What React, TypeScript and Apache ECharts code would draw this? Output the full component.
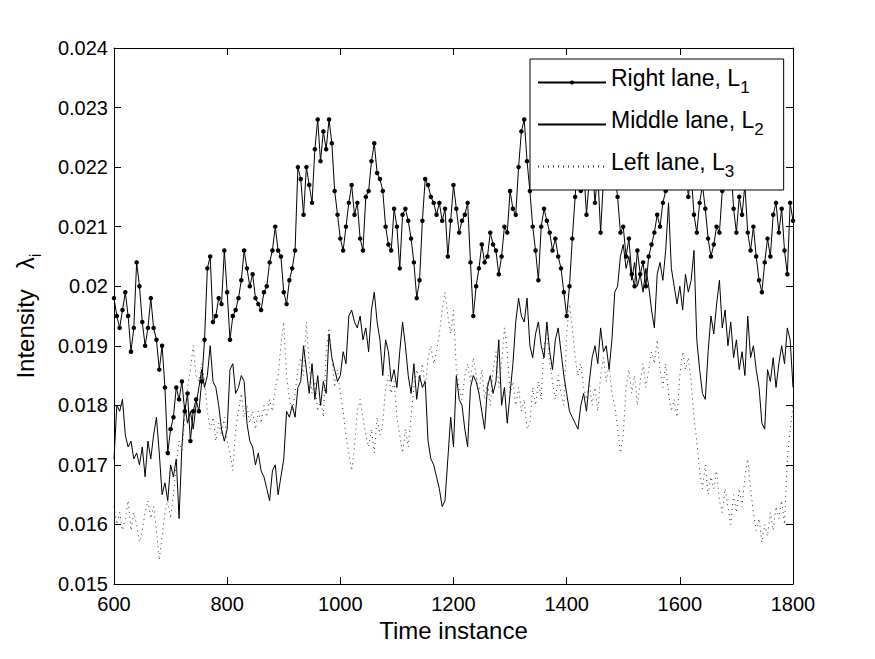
import { useEffect, useRef } from "react";
import * as echarts from "echarts";

// Samples are taken every 5 time instances, starting at 600.
const T_START = 600;
const T_STEP = 5;

const xTicks = { min: 600, max: 1800, step: 200 };
const yTicks = { min: 0.015, max: 0.024, step: 0.001 };

// Right lane, L1
const rightLane = [
  0.0198, 0.0195, 0.0193, 0.0196, 0.0199, 0.0195, 0.0189, 0.0193, 0.0204, 0.0200,
  0.0194, 0.0190, 0.0193, 0.0198, 0.0193, 0.0191, 0.0186, 0.0190, 0.0183, 0.0172,
  0.0176, 0.0178, 0.0183, 0.0181, 0.0184, 0.0179, 0.0182, 0.0174, 0.0179, 0.0181,
  0.0179, 0.0184, 0.0191, 0.0203, 0.0205, 0.0194, 0.0195, 0.0198, 0.0197, 0.0206,
  0.0199, 0.0191, 0.0195, 0.0196, 0.0198, 0.0201, 0.0206, 0.0203, 0.0200, 0.0202,
  0.0198, 0.0197, 0.0196, 0.0199, 0.0200, 0.0204, 0.0206, 0.0210, 0.0206, 0.0205,
  0.0199, 0.0197, 0.0201, 0.0203, 0.0206, 0.0220, 0.0218, 0.0212, 0.0220, 0.0217,
  0.0214, 0.0223, 0.0228, 0.0221, 0.0226, 0.0223, 0.0228, 0.0224, 0.0216, 0.0212,
  0.0208, 0.0206, 0.0210, 0.0214, 0.0217, 0.0212, 0.0214, 0.0208, 0.0206, 0.0215,
  0.0216, 0.0221, 0.0224, 0.0219, 0.0218, 0.0216, 0.0210, 0.0207, 0.0206, 0.0213,
  0.0210, 0.0203, 0.0212, 0.0213, 0.0211, 0.0208, 0.0204, 0.0198, 0.0201, 0.0211,
  0.0218, 0.0217, 0.0215, 0.0214, 0.0212, 0.0214, 0.0211, 0.0213, 0.0205, 0.0211,
  0.0217, 0.0213, 0.0209, 0.0211, 0.0212, 0.0214, 0.0204, 0.0195, 0.0200, 0.0203,
  0.0207, 0.0204, 0.0205, 0.0209, 0.0207, 0.0206, 0.0202, 0.0205, 0.0210, 0.0209,
  0.0216, 0.0213, 0.0212, 0.0220, 0.0226, 0.0228, 0.0221, 0.0216, 0.0210, 0.0206,
  0.0201, 0.0210, 0.0213, 0.0211, 0.0209, 0.0206, 0.0208, 0.0205, 0.0203, 0.0199,
  0.0195, 0.0200, 0.0208, 0.0215, 0.0222, 0.0216, 0.0220, 0.0212, 0.0218, 0.0221,
  0.0214, 0.0219, 0.0209, 0.0218, 0.0223, 0.0220, 0.0224, 0.0219, 0.0215, 0.0209,
  0.0210, 0.0205, 0.0208, 0.0202, 0.0200, 0.0206, 0.0202, 0.0204, 0.0200, 0.0205,
  0.0207, 0.0209, 0.0212, 0.0210, 0.0214, 0.0216, 0.0219, 0.0217, 0.0222, 0.0219,
  0.0223, 0.0217, 0.0221, 0.0215, 0.0219, 0.0212, 0.0209, 0.0214, 0.0217, 0.0213,
  0.0208, 0.0205, 0.0207, 0.0210, 0.0209, 0.0216, 0.0220, 0.0217, 0.0221, 0.0213,
  0.0209, 0.0215, 0.0212, 0.0217, 0.0209, 0.0206, 0.0210, 0.0205, 0.0201, 0.0199,
  0.0204, 0.0208, 0.0205, 0.0212, 0.0214, 0.0209, 0.0213, 0.0206, 0.0202, 0.0214,
  0.0211,
];

// Middle lane, L2
const middleLane = [
  0.0171, 0.0180, 0.0179, 0.0181, 0.0175, 0.0173, 0.0174, 0.0171, 0.0172, 0.0170,
  0.0173, 0.0168, 0.0174, 0.0171, 0.0175, 0.0178, 0.0172, 0.0165, 0.0167, 0.0164,
  0.0170, 0.0168, 0.0171, 0.0161, 0.0173, 0.0180, 0.0177, 0.0179, 0.0176, 0.0180,
  0.0183, 0.0186, 0.0183, 0.0185, 0.0190, 0.0184, 0.0183, 0.0180, 0.0176, 0.0174,
  0.0176, 0.0186, 0.0187, 0.0182, 0.0183, 0.0185, 0.0184, 0.0177, 0.0174, 0.0173,
  0.0170, 0.0172, 0.0169, 0.0168, 0.0166, 0.0164, 0.0169, 0.0170, 0.0165, 0.0168,
  0.0171, 0.0179, 0.0178, 0.0180, 0.0178, 0.0183, 0.0184, 0.0190, 0.0186, 0.0182,
  0.0187, 0.0181, 0.0185, 0.0180, 0.0184, 0.0182, 0.0192, 0.0188, 0.0186, 0.0184,
  0.0185, 0.0189, 0.0187, 0.0195, 0.0196, 0.0194, 0.0193, 0.0195, 0.0191, 0.0193,
  0.0189, 0.0196, 0.0199, 0.0194, 0.0191, 0.0185, 0.0191, 0.0189, 0.0184, 0.0186,
  0.0183, 0.0189, 0.0194, 0.0190, 0.0185, 0.0182, 0.0187, 0.0181, 0.0185, 0.0183,
  0.0184, 0.0174, 0.0171, 0.0170, 0.0168, 0.0166, 0.0163, 0.0164, 0.0171, 0.0178,
  0.0173, 0.0185, 0.0181, 0.0180, 0.0176, 0.0173, 0.0183, 0.0185, 0.0184, 0.0182,
  0.0179, 0.0176, 0.0183, 0.0185, 0.0182, 0.0184, 0.0191, 0.0180, 0.0183, 0.0177,
  0.0182, 0.0187, 0.0194, 0.0198, 0.0195, 0.0194, 0.0198, 0.0190, 0.0188, 0.0192,
  0.0194, 0.0190, 0.0188, 0.0194, 0.0189, 0.0186, 0.0191, 0.0193, 0.0189, 0.0185,
  0.0182, 0.0179, 0.0178, 0.0177, 0.0176, 0.0180, 0.0182, 0.0179, 0.0184, 0.0188,
  0.0190, 0.0187, 0.0193, 0.0189, 0.0190, 0.0186, 0.0191, 0.0199, 0.0200, 0.0205,
  0.0207, 0.0203, 0.0205, 0.0201, 0.0204, 0.0200, 0.0202, 0.0199, 0.0203, 0.0200,
  0.0196, 0.0193, 0.0202, 0.0204, 0.0201, 0.0206, 0.0214, 0.0203, 0.0200, 0.0197,
  0.0200, 0.0196, 0.0202, 0.0199, 0.0201, 0.0206, 0.0191, 0.0186, 0.0182, 0.0181,
  0.0189, 0.0195, 0.0192, 0.0197, 0.0201, 0.0193, 0.0196, 0.0190, 0.0194, 0.0188,
  0.0191, 0.0186, 0.0189, 0.0185, 0.0195, 0.0188, 0.0190, 0.0186, 0.0183, 0.0177,
  0.0176, 0.0186, 0.0184, 0.0188, 0.0183, 0.0187, 0.0190, 0.0187, 0.0193, 0.0191,
  0.0183,
];

// Left lane, L3
const leftLane = [
  0.0163, 0.0160, 0.0162, 0.0159, 0.0161, 0.0164, 0.0159, 0.0162, 0.0160, 0.0157,
  0.0159, 0.0162, 0.0164, 0.0161, 0.0163, 0.0159, 0.0154, 0.0158, 0.0162, 0.0164,
  0.0161, 0.0165, 0.0170, 0.0174, 0.0172, 0.0178, 0.0183, 0.0186, 0.0190, 0.0185,
  0.0184, 0.0187, 0.0184, 0.0179, 0.0176, 0.0178, 0.0174, 0.0177, 0.0175, 0.0178,
  0.0174, 0.0172, 0.0169, 0.0176, 0.0179, 0.0182, 0.0178, 0.0180, 0.0177, 0.0179,
  0.0176, 0.0179, 0.0177, 0.0180, 0.0178, 0.0181, 0.0179, 0.0183, 0.0185, 0.0190,
  0.0194, 0.0185, 0.0181, 0.0179, 0.0182, 0.0186, 0.0188, 0.0185, 0.0194, 0.0187,
  0.0182, 0.0184, 0.0179, 0.0181, 0.0178, 0.0189, 0.0193, 0.0188, 0.0183, 0.0186,
  0.0182, 0.0179, 0.0175, 0.0172, 0.0169, 0.0173, 0.0179, 0.0181, 0.0178, 0.0175,
  0.0173, 0.0176, 0.0172, 0.0178, 0.0175, 0.0177, 0.0183, 0.0185, 0.0182, 0.0184,
  0.0178, 0.0175, 0.0172, 0.0176, 0.0173, 0.0178, 0.0183, 0.0186, 0.0184, 0.0187,
  0.0183, 0.0188, 0.0190, 0.0187, 0.0189, 0.0192, 0.0196, 0.0199, 0.0195, 0.0192,
  0.0196, 0.0186, 0.0183, 0.0181, 0.0185, 0.0187, 0.0184, 0.0188, 0.0185, 0.0182,
  0.0186, 0.0181, 0.0184, 0.0180, 0.0186, 0.0189, 0.0183, 0.0187, 0.0193, 0.0189,
  0.0182, 0.0184, 0.0180, 0.0183, 0.0179, 0.0181, 0.0176, 0.0177, 0.0183, 0.0180,
  0.0184, 0.0181, 0.0190, 0.0192, 0.0187, 0.0184, 0.0181, 0.0185, 0.0182, 0.0180,
  0.0192, 0.0197, 0.0193, 0.0188, 0.0185, 0.0187, 0.0183, 0.0181, 0.0184, 0.0180,
  0.0183, 0.0179, 0.0185, 0.0188, 0.0184, 0.0187, 0.0182, 0.0180, 0.0176, 0.0172,
  0.0175, 0.0183, 0.0186, 0.0182, 0.0185, 0.0180, 0.0184, 0.0187, 0.0183, 0.0186,
  0.0189, 0.0187, 0.0191, 0.0186, 0.0183, 0.0187, 0.0182, 0.0179, 0.0181, 0.0178,
  0.0185, 0.0189, 0.0186, 0.0188, 0.0184, 0.0178, 0.0174, 0.0169, 0.0166, 0.0170,
  0.0165, 0.0168, 0.0166, 0.0169, 0.0164, 0.0162, 0.0166, 0.0163, 0.0160, 0.0165,
  0.0162, 0.0166, 0.0163, 0.0168, 0.0171, 0.0166, 0.0162, 0.0159, 0.0161, 0.0157,
  0.0160, 0.0158, 0.0162, 0.0159, 0.0163, 0.0161, 0.0164, 0.0160, 0.0171, 0.0176,
  0.0180,
];

const seriesNames = ["Right lane, L", "Middle lane, L", "Left lane, L"];
const seriesSubscripts = ["1", "2", "3"];

const FONT = "'Liberation Sans', Arial, Helvetica, sans-serif";

function toPoints(values: number[]): number[][] {
  return values.map((v, i) => [T_START + i * T_STEP, v]);
}

function formatY(v: number): string {
  return String(parseFloat(v.toFixed(3)));
}

export default function App() {
  const ref = useRef<HTMLDivElement>(null);

  useEffect(() => {
    if (!ref.current) return;
    const chart = echarts.init(ref.current, null, { renderer: "svg" });

    const axisLine = { show: true, onZero: false, lineStyle: { color: "#000", width: 1 } };
    const axisTick = { show: true, inside: true, length: 7, lineStyle: { color: "#000", width: 1 } };
    const frameAxis = {
      axisLine,
      axisTick,
      axisLabel: { show: false },
      splitLine: { show: false },
    };

    // Lines without markers get no dot in their legend icon
    const noDot = { opacity: 0, borderWidth: 0 };

    chart.setOption({
      animation: false,
      backgroundColor: "#fff",
      grid: { left: 114, right: 82, top: 48, bottom: 75, outerBoundsMode: "none" },
      xAxis: [
        {
          type: "value",
          position: "bottom",
          min: xTicks.min,
          max: xTicks.max,
          interval: xTicks.step,
          name: "Time instance",
          nameLocation: "middle",
          nameGap: 34,
          nameTextStyle: { fontFamily: FONT, fontSize: 24, color: "#000" },
          axisLine,
          axisTick,
          axisLabel: {
            fontFamily: FONT,
            fontSize: 20,
            color: "#000",
            margin: 10,
            formatter: (v: number) => String(v),
          },
          splitLine: { show: false },
        },
        {
          type: "value",
          position: "top",
          min: xTicks.min,
          max: xTicks.max,
          interval: xTicks.step,
          ...frameAxis,
        },
      ],
      yAxis: [
        {
          type: "value",
          position: "left",
          min: yTicks.min,
          max: yTicks.max,
          interval: yTicks.step,
          name: "{a|Intensity   λ}{b|i}",
          nameLocation: "middle",
          nameGap: 64,
          nameTextStyle: {
            fontFamily: FONT,
            color: "#000",
            rich: {
              a: { fontFamily: FONT, fontSize: 24, color: "#000", lineHeight: 26, padding: [0, 0, 10, 0] },
              b: { fontFamily: FONT, fontSize: 17, color: "#000", lineHeight: 26, padding: [10, 0, 0, 0] },
            },
          },
          axisLine,
          axisTick,
          axisLabel: { fontFamily: FONT, fontSize: 20, color: "#000", margin: 6, formatter: formatY },
          splitLine: { show: false },
        },
        {
          type: "value",
          position: "right",
          min: yTicks.min,
          max: yTicks.max,
          interval: yTicks.step,
          ...frameAxis,
        },
      ],
      legend: {
        orient: "vertical",
        left: 530,
        top: 59,
        padding: [7, 20, 7, 7],
        itemWidth: 68,
        itemHeight: 5,
        itemGap: 9,
        backgroundColor: "#fff",
        borderColor: "#000",
        borderWidth: 1,
        borderRadius: 0,
        data: [
          { name: seriesNames[0] },
          { name: seriesNames[1], itemStyle: noDot },
          { name: seriesNames[2], itemStyle: noDot },
        ],
        formatter: (name: string) => {
          const k = seriesNames.indexOf(name);
          return `{a|${name}}{b|${seriesSubscripts[k]}}`;
        },
        textStyle: {
          fontFamily: FONT,
          color: "#000",
          rich: {
            a: { fontFamily: FONT, fontSize: 23, color: "#000", lineHeight: 24, padding: [0, 0, 10, 0] },
            b: { fontFamily: FONT, fontSize: 17, color: "#000", lineHeight: 24, padding: [10, 0, 0, 0] },
          },
        },
      },
      series: [
        {
          name: seriesNames[0],
          type: "line",
          data: toPoints(rightLane),
          symbol: "circle",
          symbolSize: 4.5,
          showSymbol: true,
          itemStyle: { color: "#000" },
          lineStyle: { color: "#000", width: 1 },
          z: 3,
        },
        {
          name: seriesNames[1],
          type: "line",
          data: toPoints(middleLane),
          symbol: "none",
          itemStyle: { color: "#000" },
          lineStyle: { color: "#000", width: 1 },
          z: 2,
        },
        {
          name: seriesNames[2],
          type: "line",
          data: toPoints(leftLane),
          symbol: "none",
          itemStyle: { color: "#333" },
          lineStyle: { color: "#333", width: 1, type: [1, 4] },
          z: 2,
        },
      ],
    });

    return () => chart.dispose();
  }, []);

  return (
    <div
      ref={ref}
      style={{ position: "fixed", left: 0, top: 0, width: 875, height: 659 }}
    />
  );
}
